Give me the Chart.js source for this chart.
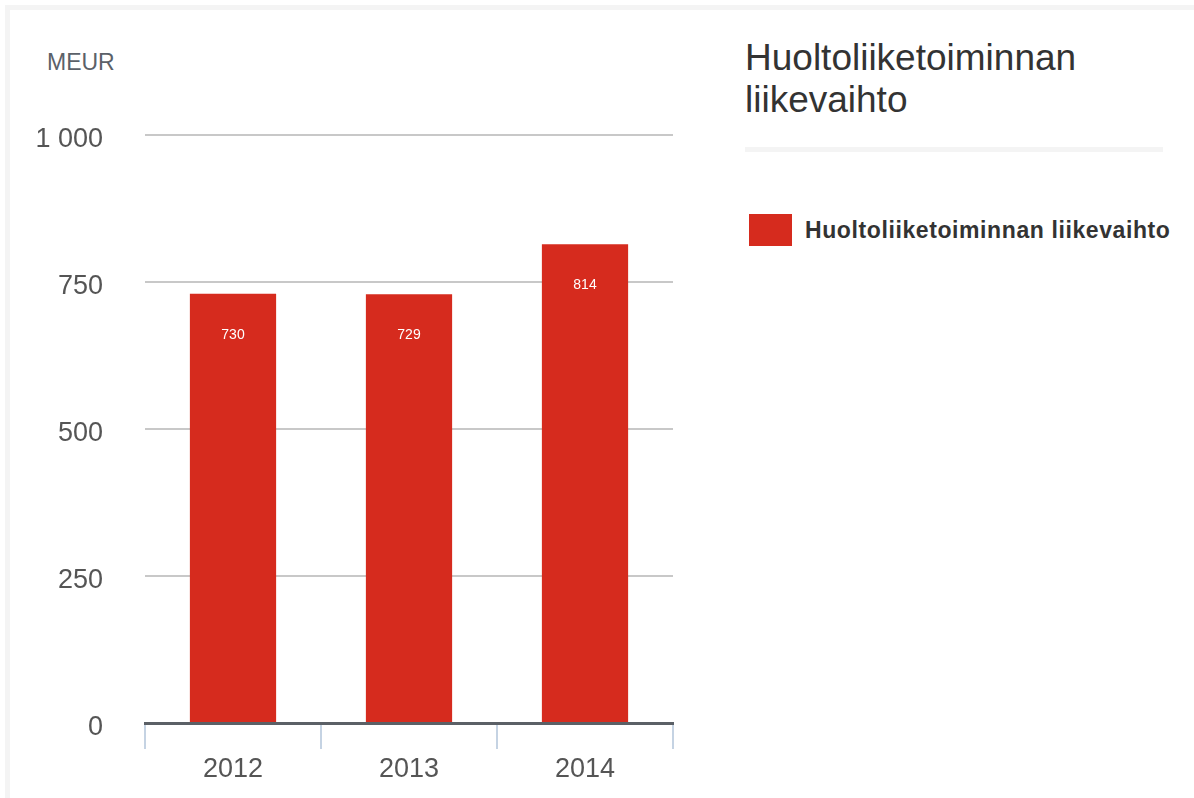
<!DOCTYPE html>
<html lang="fi">
<head>
<meta charset="utf-8">
<title>Huoltoliiketoiminnan liikevaihto</title>
<script src="https://cdn.jsdelivr.net/npm/chart.js@4"></script>
<style>
  html, body { margin: 0; padding: 0; background: #fff; }
  body { width: 1194px; height: 798px; position: relative; overflow: hidden;
         font-family: "Liberation Sans", Arial, sans-serif; }
  .frame { position: absolute; left: 5px; top: 5px; right: 0; bottom: 0;
           border-top: 5px solid #f4f4f4; border-left: 5px solid #f4f4f4; }
  #chartBox { position: absolute; left: 0; top: 0; width: 700px; height: 798px; }
  .unit { position: absolute; left: 47px; top: 49px; font-size: 23px; color: #5b6169; }
  .title { position: absolute; left: 745px; top: 37px; font-size: 37px; line-height: 42px; color: #333; }
  .divider { position: absolute; left: 745px; top: 147px; width: 418px; height: 5px; background: #f4f4f4; }
  .legend { position: absolute; left: 749px; top: 214px; display: flex; align-items: center; }
  .legend .swatch { width: 43px; height: 32px; margin-right: 13px; }
  .legend .text { font-size: 23px; font-weight: bold; color: #333; letter-spacing: 0.6px; }
</style>
</head>
<body>
<div class="frame"></div>
<div class="unit">MEUR</div>
<div id="chartBox"><canvas id="revenueChart"></canvas></div>
<div class="title">Huoltoliiketoiminnan<br>liikevaihto</div>
<div class="divider"></div>
<div class="legend"><div class="swatch" id="legendSwatch"></div><div class="text" id="legendText"></div></div>

<script>
// Huoltoliiketoiminnan liikevaihto, MEUR
var years = ['2012', '2013', '2014'];
var revenue = [730, 729, 814];
var seriesName = 'Huoltoliiketoiminnan liikevaihto';
var yTicks = [0, 250, 500, 750, 1000];
var yTickLabels = ['0', '250', '500', '750', '1 000'];

var barColor = '#d62b1e';

document.getElementById('legendSwatch').style.background = barColor;
document.getElementById('legendText').textContent = seriesName;

// value labels inside the top of each bar
var barValueLabels = {
    id: 'barValueLabels',
    afterDatasetsDraw: function(chart) {
        var ctx = chart.ctx;
        var meta = chart.getDatasetMeta(0);
        ctx.save();
        ctx.font = '14px "Liberation Sans", Arial, sans-serif';
        ctx.fillStyle = '#ffffff';
        ctx.textAlign = 'center';
        ctx.textBaseline = 'middle';
        meta.data.forEach(function(bar, i) {
            ctx.fillText(String(chart.data.datasets[0].data[i]), bar.x, bar.y + 41);
        });
        ctx.restore();
    }
};

var ctx = document.getElementById('revenueChart');
new Chart(ctx, {
    type: 'bar',
    data: {
        labels: years,
        datasets: [{
            label: seriesName,
            data: revenue,
            backgroundColor: barColor,
            borderWidth: 0,
            barPercentage: 0.49,
            categoryPercentage: 1.0
        }]
    },
    options: {
        responsive: true,
        maintainAspectRatio: false,
        animation: false,
        layout: { padding: { top: 135, right: 27, bottom: 0, left: 0 } },
        plugins: {
            legend: { display: false },
            tooltip: { enabled: false }
        },
        scales: {
            x: {
                offset: true,
                grid: {
                    offset: true,
                    drawOnChartArea: false,
                    drawTicks: true,
                    tickLength: 26,
                    tickColor: '#c5d3e3',
                    lineWidth: 2
                },
                border: { display: true, color: '#5b6066', width: 3 },
                ticks: {
                    color: '#555555',
                    padding: 4,
                    font: { family: '"Liberation Sans", Arial, sans-serif', size: 27 }
                },
                afterFit: function(scale) { scale.height = 75; }
            },
            y: {
                min: 0,
                max: 1000,
                afterBuildTicks: function(scale) {
                    scale.ticks = yTicks.map(function(v) { return { value: v }; });
                },
                grid: {
                    color: '#c8c8c8',
                    lineWidth: 2,
                    drawTicks: false
                },
                border: { display: false },
                ticks: {
                    color: '#555555',
                    padding: 42,
                    labelOffset: 5,
                    font: { family: '"Liberation Sans", Arial, sans-serif', size: 27 },
                    callback: function(value) {
                        var i = yTicks.indexOf(value);
                        return i >= 0 ? yTickLabels[i] : '';
                    }
                },
                afterFit: function(scale) { scale.width = 145; }
            }
        }
    },
    plugins: [barValueLabels]
});
</script>
</body>
</html>
